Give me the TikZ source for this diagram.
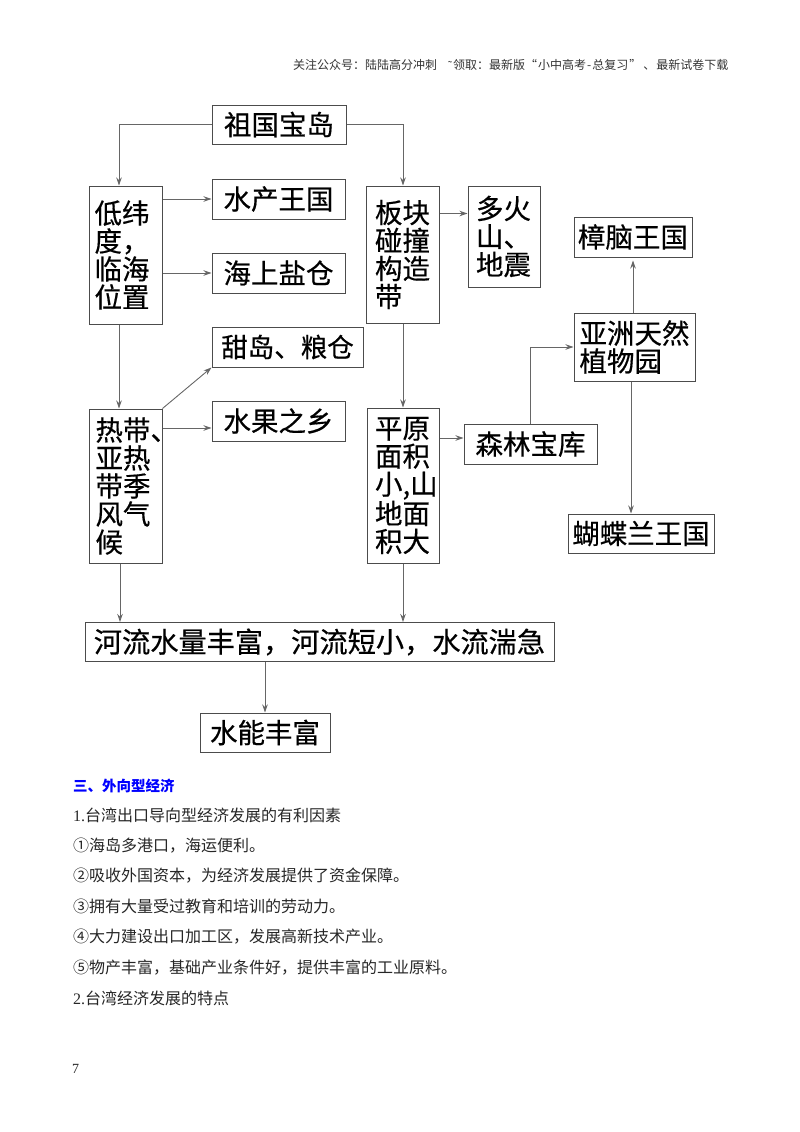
\documentclass[tikz,border=0pt]{standalone}
\usepackage{fontspec}
\setmainfont{Liberation Serif}
\newfontfamily\cjk{Noto Sans CJK SC}
\newfontfamily\cjkheavy[FakeBold=0.5]{Noto Sans CJK SC}
\usetikzlibrary{arrows.meta}
\tikzset{
    box/.style={draw=black!70, line width=1pt, inner sep=0pt, text=black, font=\cjkheavy\fontsize{27.5}{28}\selectfont},
    tallbox/.style={box, align=left, text width=56},
    flow/.style={->, draw=black!60, line width=0.9pt},
    bodyline/.style={anchor=west, inner sep=0pt, text=black!85, font=\cjk\fontsize{16}{16}\selectfont},
}

\begin{document}
\begin{tikzpicture}[>={Stealth[length=8pt, width=5.5pt]}, x=1pt, y=-1pt]
    \useasboundingbox (0,0) rectangle (800,1132);

    \draw(293,65) node[anchor=west, inner sep=0pt, font=\cjk\fontsize{12}{12}\selectfont, text=black!80] (header) {关注公众号：陆陆高分冲刺\hspace{11pt}{\rmfamily ˜}\hspace{1pt}领取：最新版“\hspace{1pt}小中高考{\hspace{1pt}}-{\hspace{1pt}}总复习\hspace{1pt}”{\hspace{2pt}}、\hspace{1pt}最新试卷下载};

    \draw(279,124.5) node[box, minimum width=134, minimum height=39] (zuguo) {祖国宝岛};
    \draw(125.5,255) node[tallbox, text width=62, minimum width=73, minimum height=138] (diwei) {低纬\\度，\\临海\\位置};
    \draw(278.5,199) node[box, minimum width=133, minimum height=40] (shuichan) {水产王国};
    \draw(278.5,273) node[box, minimum width=133, minimum height=40] (yancang) {海上盐仓};
    \draw(403,254.5) node[tallbox, minimum width=73, minimum height=137] (bankuai) {板块\\碰撞\\构造\\带};
    \draw(504,236.5) node[tallbox, minimum width=72, minimum height=101] (huoshan) {多火\\山、\\地震};
    \draw(633,237) node[box, minimum width=118, minimum height=40] (zhangnao) {樟脑王国};
    \draw(634.5,347) node[box, align=left, minimum width=121, minimum height=68] (zhiwuyuan) {亚洲天然\\植物园};
    \draw(287.5,347) node[box, font=\cjkheavy\fontsize{26.5}{28}\selectfont, minimum width=151, minimum height=40] (tiandao) {甜岛、粮仓};
    \draw(278.5,421) node[box, minimum width=133, minimum height=40] (guoxiang) {水果之乡};
    \draw(125.5,486) node[tallbox, text width=60, minimum width=73, minimum height=154] (redai) {热带、\\亚热\\带季\\风气\\候};
    \draw(403,485.5) node[tallbox, minimum width=72, minimum height=155] (pingyuan) {平原\\面积\\小,山\\地面\\积大};
    \draw(530.5,444) node[box, minimum width=133, minimum height=40] (senlin) {森林宝库};
    \draw(641,533.5) node[box, minimum width=146, minimum height=39] (hudie) {蝴蝶兰王国};
    \draw(319.5,642) node[box, font=\cjkheavy\fontsize{28.2}{28}\selectfont, minimum width=469, minimum height=39] (heliu) {河流水量丰富，河流短小，水流湍急};
    \draw(265,732.5) node[box, minimum width=130, minimum height=39] (shuineng) {水能丰富};

    \draw[flow] (zuguo.west) -| ([xshift=-6.5]diwei.north);
    \draw[flow] (zuguo.east) -| (bankuai.north);
    \draw[flow] (diwei.east |- shuichan.west) -- (shuichan.west);
    \draw[flow] (diwei.east |- yancang.west) -- (yancang.west);
    \draw[flow] ([yshift=23]bankuai.east |- huoshan.west) -- ([yshift=23]huoshan.west);
    \draw[flow] ([xshift=-6.5]diwei.south) -- ([xshift=-6.5]redai.north);
    \draw[flow] (redai.north east) -- (tiandao.south west);
    \draw[flow] ([yshift=-7]redai.east |- guoxiang.west) -- ([yshift=-7]guoxiang.west);
    \draw[flow] (bankuai.south) -- (pingyuan.north);
    \draw[flow] ([yshift=6]pingyuan.east |- senlin.west) -- ([yshift=6]senlin.west);
    \draw[flow] (senlin.north) |- (zhiwuyuan.west);
    \draw[flow] (zhiwuyuan.north -| zhangnao.south) -- ([yshift=-3]zhangnao.south);
    \draw[flow] ([xshift=-3.5]zhiwuyuan.south) -- ([xshift=-3.5]zhiwuyuan.south |- hudie.north);
    \draw[flow] ([xshift=-5.5]redai.south) -- ([xshift=-5.5]redai.south |- heliu.north);
    \draw[flow] (pingyuan.south) -- (pingyuan.south |- heliu.north);
    \draw[flow] (shuineng.north |- heliu.south) -- (shuineng.north);

    \draw(73,786) node[bodyline, text=blue, font=\cjk\bfseries\fontsize{14.5}{14.5}\selectfont] (heading) {三、外向型经济};
    \draw(73,815) node[bodyline] (lineA) {{\rmfamily 1.}台湾出口导向型经济发展的有利因素};
    \draw(73,846) node[bodyline] (lineB) {①海岛多港口，海运便利。};
    \draw(73,876) node[bodyline] (lineC) {②吸收外国资本，为经济发展提供了资金保障。};
    \draw(73,906) node[bodyline] (lineD) {③拥有大量受过教育和培训的劳动力。};
    \draw(73,937) node[bodyline] (lineE) {④大力建设出口加工区，发展高新技术产业。};
    \draw(73,968) node[bodyline] (lineF) {⑤物产丰富，基础产业条件好，提供丰富的工业原料。};
    \draw(73,998) node[bodyline] (lineG) {{\rmfamily 2.}台湾经济发展的特点};
    \draw(72,1069) node[bodyline, font=\rmfamily\fontsize{14}{14}\selectfont] (pagenum) {7};

\end{tikzpicture}
\end{document}
